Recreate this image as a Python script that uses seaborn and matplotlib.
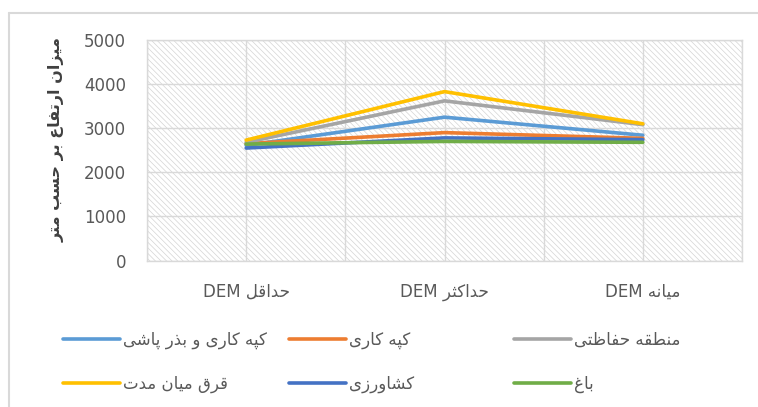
import matplotlib
matplotlib.use('Agg')
import matplotlib.pyplot as plt
from matplotlib.lines import Line2D
import pandas as pd
import seaborn as sns

# Arabic/Persian contextual forms (isolated, final, initial, medial)
FORMS = {
    '\u0627': ('\ufe8d', '\ufe8e', None, None),
    '\u0628': ('\ufe8f', '\ufe90', '\ufe91', '\ufe92'),
    '\u067e': ('\ufb56', '\ufb57', '\ufb58', '\ufb59'),
    '\u062a': ('\ufe95', '\ufe96', '\ufe97', '\ufe98'),
    '\u062b': ('\ufe99', '\ufe9a', '\ufe9b', '\ufe9c'),
    '\u062d': ('\ufea1', '\ufea2', '\ufea3', '\ufea4'),
    '\u062f': ('\ufea9', '\ufeaa', None, None),
    '\u0630': ('\ufeab', '\ufeac', None, None),
    '\u0631': ('\ufead', '\ufeae', None, None),
    '\u0632': ('\ufeaf', '\ufeb0', None, None),
    '\u0633': ('\ufeb1', '\ufeb2', '\ufeb3', '\ufeb4'),
    '\u0634': ('\ufeb5', '\ufeb6', '\ufeb7', '\ufeb8'),
    '\u0637': ('\ufec1', '\ufec2', '\ufec3', '\ufec4'),
    '\u0638': ('\ufec5', '\ufec6', '\ufec7', '\ufec8'),
    '\u0639': ('\ufec9', '\ufeca', '\ufecb', '\ufecc'),
    '\u063a': ('\ufecd', '\ufece', '\ufecf', '\ufed0'),
    '\u0641': ('\ufed1', '\ufed2', '\ufed3', '\ufed4'),
    '\u0642': ('\ufed5', '\ufed6', '\ufed7', '\ufed8'),
    '\u06a9': ('\ufb8e', '\ufb8f', '\ufb90', '\ufb91'),
    '\u0643': ('\ufb8e', '\ufb8f', '\ufb90', '\ufb91'),
    '\u0644': ('\ufedd', '\ufede', '\ufedf', '\ufee0'),
    '\u0645': ('\ufee1', '\ufee2', '\ufee3', '\ufee4'),
    '\u0646': ('\ufee5', '\ufee6', '\ufee7', '\ufee8'),
    '\u0647': ('\ufee9', '\ufeea', '\ufeeb', '\ufeec'),
    '\u0648': ('\ufeed', '\ufeee', None, None),
    '\u06cc': ('\ufbfc', '\ufbfd', '\ufbfe', '\ufbff'),
    '\u064a': ('\ufbfc', '\ufbfd', '\ufbfe', '\ufbff'),
}


def rtl(text):
    # shape letters and reverse into visual order
    out = []
    for i, c in enumerate(text):
        if c not in FORMS:
            out.append(c)
            continue
        prev = text[i - 1] if i > 0 else ''
        nxt = text[i + 1] if i + 1 < len(text) else ''
        f = FORMS[c]
        jp = prev in FORMS and FORMS[prev][2] is not None
        jn = f[2] is not None and nxt in FORMS
        if jp and jn:
            out.append(f[3])
        elif jp:
            out.append(f[1])
        elif jn:
            out.append(f[2])
        else:
            out.append(f[0])
    return ''.join(out)[::-1]


# data
categories = ['حداقل', 'حداکثر', 'میانه']
series_names = ['کپه کاری و بذر پاشی', 'کپه کاری', 'منطقه حفاظتی',
                'قرق میان مدت', 'کشاورزی', 'باغ']
seeding = [2610, 3250, 2840]
planting = [2650, 2900, 2770]
protected = [2680, 3620, 3080]
mid_term = [2730, 3830, 3100]
farming = [2550, 2780, 2740]
garden = [2640, 2700, 2680]
colors = ['#5B9BD5', '#ED7D31', '#A5A5A5', '#FFC000', '#4472C4', '#70AD47']
y_label = 'میزان ارتفاع بر حسب متر'

cat_labels = ['DEM ' + rtl(c) for c in categories]
names = [rtl(s) for s in series_names]
all_vals = [seeding, planting, protected, mid_term, farming, garden]

rows = []
for name, vals in zip(names, all_vals):
    for cat, v in zip(cat_labels, vals):
        rows.append({'category': cat, 'value': v, 'series': name})
df = pd.DataFrame(rows)

sns.set_style('white')
plt.rcParams['font.family'] = ['DejaVu Sans']
plt.rcParams['hatch.color'] = '#d4d4d4'
plt.rcParams['hatch.linewidth'] = 0.5

fig = plt.figure(figsize=(7.58, 4.07), dpi=100)
ax = fig.add_axes([147 / 758, 1 - 260.5 / 407, 595 / 758, 220.5 / 407])
ax.patch.set_facecolor('white')
ax.patch.set_hatch('\\' * 6)
ax.patch.set_edgecolor('#d4d4d4')

sns.lineplot(data=df, x='category', y='value', hue='series', hue_order=names,
             palette=colors, linewidth=2.6, legend=False, sort=False, ax=ax)

ax.set_xlim(-0.5, 2.5)
ax.set_ylim(0, 5000)
ax.set_yticks([0, 1000, 2000, 3000, 4000, 5000])
ax.set_xticks([0, 1, 2])
ax.set_xticklabels(cat_labels)
ax.set_xticks([-0.5, 0.5, 1.5, 2.5], minor=True)
ax.grid(which='both', axis='x', color='#d9d9d9', linewidth=1.0)
ax.grid(which='major', axis='y', color='#d9d9d9', linewidth=1.0)
ax.set_axisbelow(True)
ax.tick_params(which='both', length=0)
ax.tick_params(axis='y', pad=15, labelsize=12, labelcolor='#595959')
ax.tick_params(axis='x', pad=16, labelsize=12, labelcolor='#595959')
ax.set_xlabel('')
ax.set_ylabel('')
for sp in ax.spines.values():
    sp.set_color('#d9d9d9')
    sp.set_linewidth(1.0)

fig.text(57 / 758, 1 - 140 / 407, rtl(y_label), rotation=90, ha='center',
         va='center', fontsize=11.5, fontweight='bold', color='#404040')

# legend: one entry per slot, Excel-like grid
col_x = [63 / 758, 289 / 758, 514 / 758]
row_y = [1 - 340 / 407, 1 - 384 / 407]
slots = [(0, 0), (0, 1), (0, 2), (1, 0), (1, 1), (1, 2)]
for (r, c), name, col in zip(slots, names, colors):
    h = Line2D([], [], color=col, linewidth=2.6)
    fig.legend([h], [name], loc='center left', bbox_to_anchor=(col_x[c], row_y[r]),
               frameon=False, fontsize=12, handlelength=3.4, handletextpad=0.2,
               borderpad=0, borderaxespad=0, labelcolor='#595959')

# outer chart border
fig.add_artist(Line2D([9 / 758, 1], [1 - 13 / 407, 1 - 13 / 407], color='#d9d9d9', linewidth=1.5))
fig.add_artist(Line2D([9 / 758, 9 / 758], [0, 1 - 13 / 407], color='#d9d9d9', linewidth=1.5))

fig.savefig('out.png', dpi=100)
